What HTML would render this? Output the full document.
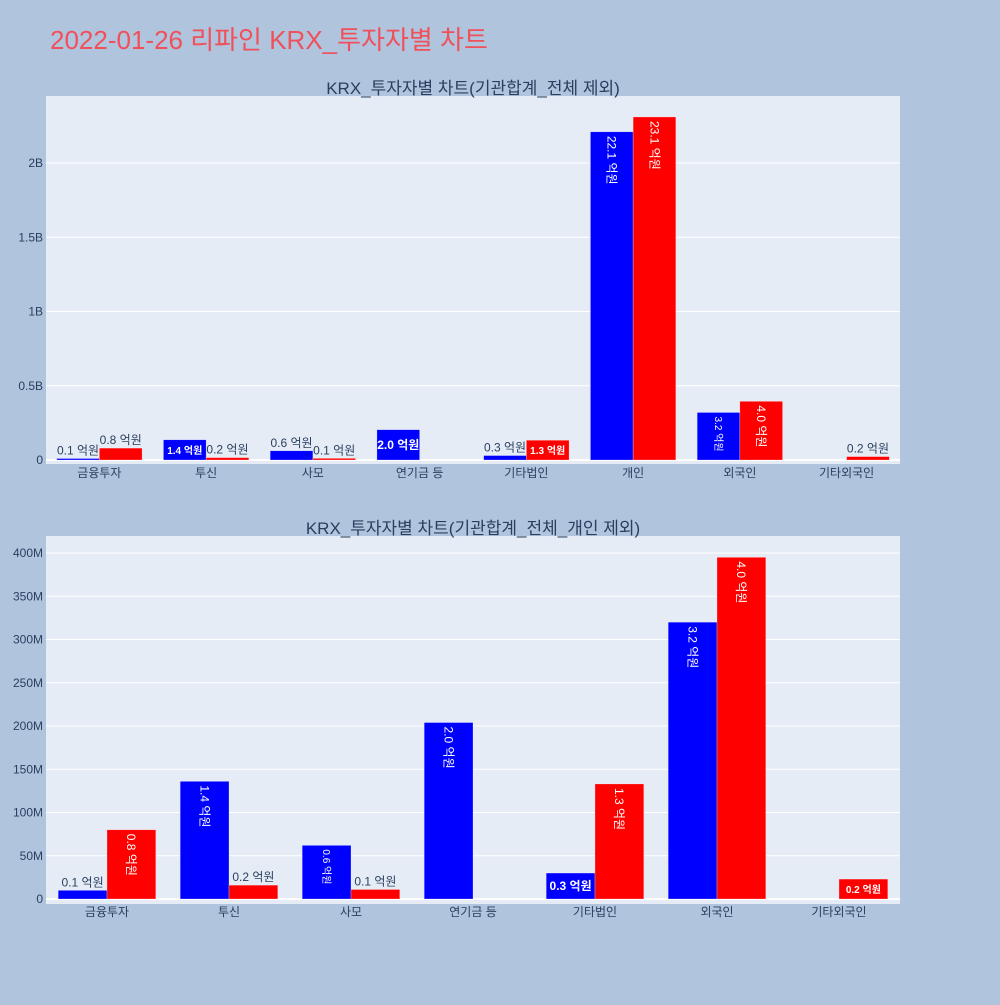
<!DOCTYPE html>
<html><head><meta charset="utf-8">
<style>
body{margin:0;background:#b0c4de;}
svg text{font-family:"Liberation Sans","Noto Sans CJK KR",sans-serif;}
</style></head>
<body>
<svg id="root" width="1000" height="1000" xmlns="http://www.w3.org/2000/svg">
<rect width="1000" height="1000" fill="#b0c4de"/>
<text x="50" y="49" font-size="26" fill="#f0505a">2022-01-26 리파인 KRX_투자자별 차트</text>
</svg>
<script>
const categories1 = ["금융투자","투신","사모","연기금 등","기타법인","개인","외국인","기타외국인"];
const buy1 = [10e6,136e6,62e6,204e6,30e6,2210e6,320e6,0];
const sell1 = [80e6,16e6,11e6,0,133e6,2310e6,395e6,23e6];
const ticks1 = [0,0.5e9,1e9,1.5e9,2e9];
const tickLabels1 = ["0","0.5B","1B","1.5B","2B"];
const categories2 = ["금융투자","투신","사모","연기금 등","기타법인","외국인","기타외국인"];
const buy2 = [10e6,136e6,62e6,204e6,30e6,320e6,0];
const sell2 = [80e6,16e6,11e6,0,133e6,395e6,23e6];
const ticks2 = [0,50e6,100e6,150e6,200e6,250e6,300e6,350e6,400e6];
const tickLabels2 = ["0","50M","100M","150M","200M","250M","300M","350M","400M"];

const NS="http://www.w3.org/2000/svg";
const root=document.getElementById('root');
function mk(tag,attrs,parent){const e=document.createElementNS(NS,tag);for(const k in attrs)e.setAttribute(k,attrs[k]);(parent||root).appendChild(e);return e;}

function drawChart(o){
  const g=mk('g',{});
  
  
  const bg=mk('rect',{x:o.x0,y:o.y0,width:o.x1-o.x0,height:o.y1-o.y0,fill:'#e5ecf6'},g);
  
  
  const yS=v=>o.zeroY-(v)*o.pxPer;
  o.ticks.forEach((t,i)=>{
    const y=yS(t);
    const l=mk('line',{x1:o.x0,x2:o.x1,y1:y,y2:y,stroke:'#fff','stroke-width':i===0?2:1},g);
    
    
    const tx=mk('text',{x:o.x0-3,y:y+4,'font-size':12,fill:'#2a3f5f','text-anchor':'end'},g);
    tx.textContent=o.tickLabels[i];
    
    
  });
  const n=o.cats.length, cw=(o.x1-o.x0)/n, bw=cw*0.4;
  o.cats.forEach((c,i)=>{
    const cx=o.x0+cw*(i+0.5);
    const tx=mk('text',{x:cx,y:o.zeroY+17,'font-size':12,fill:'#2a3f5f','text-anchor':'middle'},g);
    tx.textContent=c;
    
    
    [[o.buy[i],'#0000ff',cx-bw,'buy-bar'],[o.sell[i],'#ff0000',cx,'sell-bar']].forEach(([v,col,bx,nm])=>{
      const h=v*o.pxPer, top=o.zeroY-h;
      const r=mk('rect',{x:bx,y:top,width:bw,height:Math.max(h,0),fill:col,stroke:'rgba(255,255,255,0.5)','stroke-width':0.5},g);
      
      
      if(v<=0)return;
      const lab=(v/1e8).toFixed(1)+' 억원';
      const bxc=bx+bw/2;
      let t;
      if(h>=45){
        const fs=h<55?10:12;
        t=mk('text',{x:0,y:0,'font-size':fs,fill:'#fff','transform':`translate(${bxc-fs*0.35},${top+4}) rotate(90)`},g);
      }else if(h>=16){
        t=mk('text',{x:bxc,y:top+h/2+4,'font-size':Math.min(12,h*0.55+2)>10?(h>22?12:10):10,fill:'#fff','font-weight':'bold','text-anchor':'middle'},g);
      }else{
        t=mk('text',{x:bxc,y:top-4,'font-size':12,fill:'#2a3f5f','text-anchor':'middle'},g);
      }
      t.textContent=lab;
      
      
    });
  });
  const st=mk('text',{x:(o.x0+o.x1)/2,y:o.y0-2,'font-size':17,fill:'#2a3f5f','text-anchor':'middle'},g);
  st.textContent=o.title;
  
  
}
drawChart({name:'chart-top',x0:46,x1:900,y0:96,y1:464,zeroY:460,pxPer:297/2e9,cats:categories1,buy:buy1,sell:sell1,ticks:ticks1,tickLabels:tickLabels1,title:'KRX_투자자별 차트(기관합계_전체 제외)'});
drawChart({name:'chart-bottom',x0:46,x1:900,y0:536,y1:904,zeroY:899,pxPer:346/400e6,cats:categories2,buy:buy2,sell:sell2,ticks:ticks2,tickLabels:tickLabels2,title:'KRX_투자자별 차트(기관합계_전체_개인 제외)'});
</script>
</body></html>
